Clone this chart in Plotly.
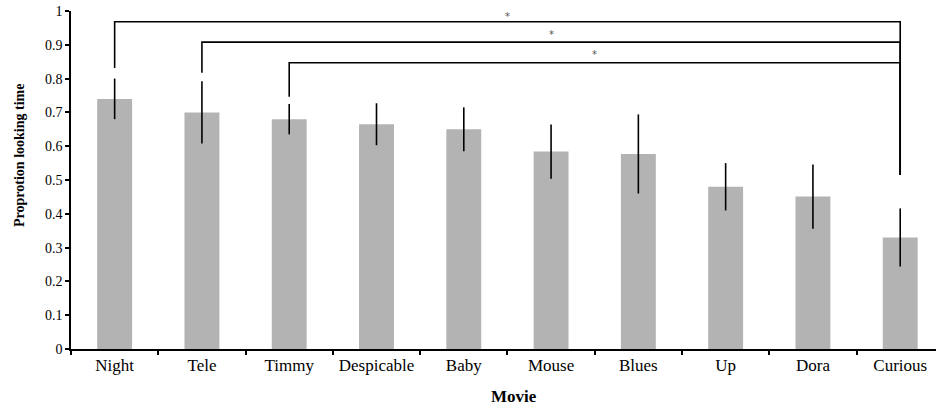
import plotly.graph_objects as go

movies = ["Night", "Tele", "Timmy", "Despicable", "Baby", "Mouse", "Blues", "Up", "Dora", "Curious"]
means = [0.740, 0.700, 0.680, 0.665, 0.650, 0.584, 0.577, 0.480, 0.451, 0.330]
errors = [0.060, 0.092, 0.045, 0.062, 0.065, 0.080, 0.117, 0.070, 0.095, 0.086]

y_ticks = [0, 0.1, 0.2, 0.3, 0.4, 0.5, 0.6, 0.7, 0.8, 0.9, 1]
y_tick_labels = ["0", "0.1", "0.2", "0.3", "0.4", "0.5", "0.6", "0.7", "0.8", "0.9", "1"]

# significance brackets: from movie -> to movie, bracket height, left foot, right foot
bracket_from = ["Night", "Tele", "Timmy"]
bracket_to = ["Curious", "Curious", "Curious"]
bracket_top = [0.968, 0.908, 0.847]
bracket_left_foot = [0.831, 0.817, 0.746]
bracket_right_foot = [0.515, 0.515, 0.515]
bracket_label = ["*", "*", "*"]
label_offset = [0.024, 0.032, 0.032]

fig = go.Figure()
fig.add_trace(go.Bar(
    x=movies, y=means, width=0.4,
    marker=dict(color="#b3b3b3", line=dict(width=0)),
    error_y=dict(type="data", array=errors, visible=True, color="black", thickness=1.6, width=0),
    showlegend=False,
))

for i in range(len(bracket_from)):
    fig.add_trace(go.Scatter(
        x=[bracket_from[i], bracket_from[i], bracket_to[i], bracket_to[i]],
        y=[bracket_left_foot[i], bracket_top[i], bracket_top[i], bracket_right_foot[i]],
        mode="lines", line=dict(color="black", width=1.6), showlegend=False, hoverinfo="skip",
    ))
    xa = movies.index(bracket_from[i])
    xb = movies.index(bracket_to[i])
    fig.add_annotation(
        x=(xa + xb) / 2, y=bracket_top[i] + label_offset[i], xref="x", yref="y",
        text=bracket_label[i], showarrow=False, yanchor="middle", yshift=-3,
        font=dict(family="DejaVu Sans", size=10, color="#555555"),
    )

fig.add_annotation(
    x=0.5, y=-0.142, xref="paper", yref="paper", text="<b>Movie</b>", showarrow=False,
    xanchor="center", yanchor="middle", xshift=10,
    font=dict(family="Liberation Serif", size=17, color="black"),
)
fig.add_annotation(
    x=-0.059, y=0.574, xref="paper", yref="paper", text="<b>Proprotion looking time</b>",
    showarrow=False, textangle=-90, xanchor="center", yanchor="middle",
    font=dict(family="Liberation Serif", size=14, color="black"),
)

fig.update_layout(
    width=936, height=408,
    margin=dict(l=71, r=0, t=11, b=59),
    paper_bgcolor="white", plot_bgcolor="white",
    font=dict(family="Liberation Serif", color="black"),
    bargap=0.6,
)
fig.update_xaxes(
    type="category", range=[-0.5, 9.41],
    showline=True, linecolor="black", linewidth=1.5,
    ticks="outside", tickson="boundaries", ticklen=4, tickcolor="black", tickwidth=1.5,
    tickfont=dict(family="Liberation Serif", size=17, color="black"),
    showgrid=False, zeroline=False,
)
fig.update_yaxes(
    range=[0, 1], tickvals=y_ticks, ticktext=y_tick_labels,
    showline=True, linecolor="black", linewidth=1.5,
    ticks="outside", ticklen=4, tickcolor="black", tickwidth=1.5,
    tickfont=dict(family="Liberation Serif", size=14, color="black"),
    showgrid=False, zeroline=False,
)

fig.write_html("out.html")
